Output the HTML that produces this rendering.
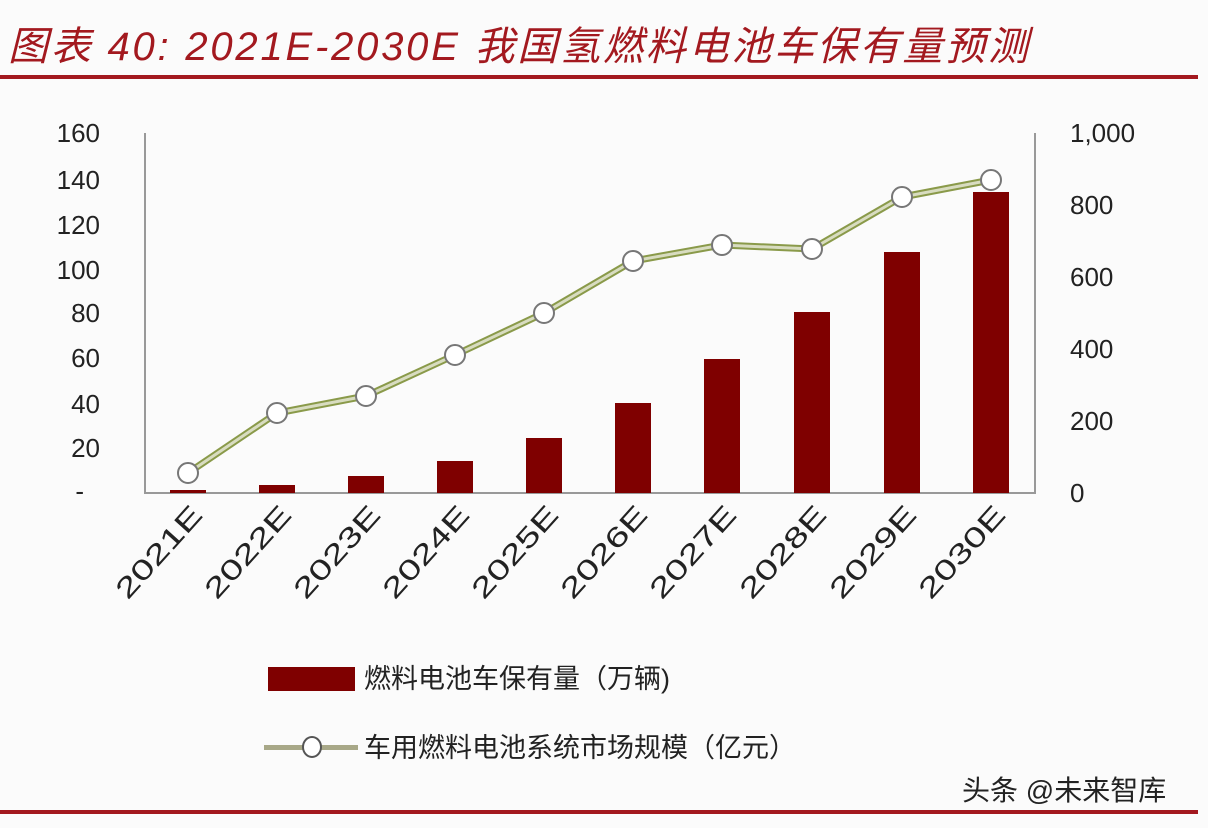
<!DOCTYPE html>
<html><head><meta charset="utf-8"><style>
body{margin:0;background:#fbfbfb;width:1208px;height:828px;overflow:hidden;font-family:"Liberation Sans","Noto Sans CJK SC",sans-serif;}
</style></head><body>
<svg width="1208" height="828" xmlns="http://www.w3.org/2000/svg" style="position:absolute;left:0;top:0">
<text x="8" y="60" font-size="40" font-style="italic" fill="#a3191f" font-family="Liberation Sans, Noto Sans CJK SC, sans-serif" textLength="1020">图表 40: 2021E-2030E 我国氢燃料电池车保有量预测</text>
<rect x="0" y="75" width="1198" height="4" fill="#a3191f"/>
<rect x="0" y="810" width="1198" height="4" fill="#a3191f"/>
<g fill="#999" >
<rect x="144" y="133" width="2" height="361"/>
<rect x="1034" y="133" width="2" height="361"/>
<rect x="144" y="492" width="892" height="2"/>
</g>
<g font-size="26" fill="#222" text-anchor="end">
<text x="100" y="142">160</text><text x="100" y="189">140</text><text x="100" y="234">120</text>
<text x="100" y="279">100</text><text x="100" y="322">80</text><text x="100" y="367">60</text>
<text x="100" y="413">40</text><text x="100" y="457">20</text><text x="84" y="500">-</text>
</g>
<g font-size="26" fill="#222">
<text x="1070" y="142">1,000</text><text x="1070" y="214">800</text><text x="1070" y="286">600</text>
<text x="1070" y="358">400</text><text x="1070" y="430">200</text><text x="1070" y="502">0</text>
</g>
<g fill="#7f0000">
<rect x="170" y="490" width="36" height="3"/>
<rect x="259" y="485" width="36" height="8"/>
<rect x="348" y="476" width="36" height="17"/>
<rect x="437" y="461" width="36" height="32"/>
<rect x="526" y="438" width="36" height="55"/>
<rect x="615" y="403" width="36" height="90"/>
<rect x="704" y="359" width="36" height="134"/>
<rect x="794" y="312" width="36" height="181"/>
<rect x="884" y="252" width="36" height="241"/>
<rect x="973" y="192" width="36" height="301"/>
</g>
<polyline points="188,473 277,413 366,396 455,355 544,313 633,261 722,245 812,249 902,197 991,180" fill="none" stroke="#8a9a4a" stroke-width="7"/>
<polyline points="188,473 277,413 366,396 455,355 544,313 633,261 722,245 812,249 902,197 991,180" fill="none" stroke="#d8dcc0" stroke-width="3"/>
<g fill="#fff" stroke="#777" stroke-width="2">
<circle cx="188" cy="473" r="10"/><circle cx="277" cy="413" r="10"/><circle cx="366" cy="396" r="10"/>
<circle cx="455" cy="355" r="10"/><circle cx="544" cy="313" r="10"/><circle cx="633" cy="261" r="10"/>
<circle cx="722" cy="245" r="10"/><circle cx="812" cy="249" r="10"/><circle cx="902" cy="197" r="10"/>
<circle cx="991" cy="180" r="10"/>
</g>
<g font-size="28" fill="#222" text-anchor="end">
<text transform="translate(204,516) rotate(-48)" textLength="114" lengthAdjust="spacingAndGlyphs">2021E</text>
<text transform="translate(293,516) rotate(-48)" textLength="114" lengthAdjust="spacingAndGlyphs">2022E</text>
<text transform="translate(382,516) rotate(-48)" textLength="114" lengthAdjust="spacingAndGlyphs">2023E</text>
<text transform="translate(471,516) rotate(-48)" textLength="114" lengthAdjust="spacingAndGlyphs">2024E</text>
<text transform="translate(560,516) rotate(-48)" textLength="114" lengthAdjust="spacingAndGlyphs">2025E</text>
<text transform="translate(649,516) rotate(-48)" textLength="114" lengthAdjust="spacingAndGlyphs">2026E</text>
<text transform="translate(738,516) rotate(-48)" textLength="114" lengthAdjust="spacingAndGlyphs">2027E</text>
<text transform="translate(828,516) rotate(-48)" textLength="114" lengthAdjust="spacingAndGlyphs">2028E</text>
<text transform="translate(918,516) rotate(-48)" textLength="114" lengthAdjust="spacingAndGlyphs">2029E</text>
<text transform="translate(1007,516) rotate(-48)" textLength="114" lengthAdjust="spacingAndGlyphs">2030E</text>
</g>
<rect x="268" y="667" width="87" height="24" fill="#7f0000"/>
<text x="364" y="688" font-size="27" fill="#222">燃料电池车保有量（万辆)</text>
<rect x="264" y="745" width="94" height="5" fill="#a8a888"/>
<ellipse cx="312" cy="747" rx="9" ry="10" fill="#fff" stroke="#555" stroke-width="2"/>
<text x="364" y="757" font-size="27" fill="#222">车用燃料电池系统市场规模（亿元）</text>
<text x="962" y="800" font-size="28" fill="#222">头条 @未来智库</text>
</svg>
</body></html>
